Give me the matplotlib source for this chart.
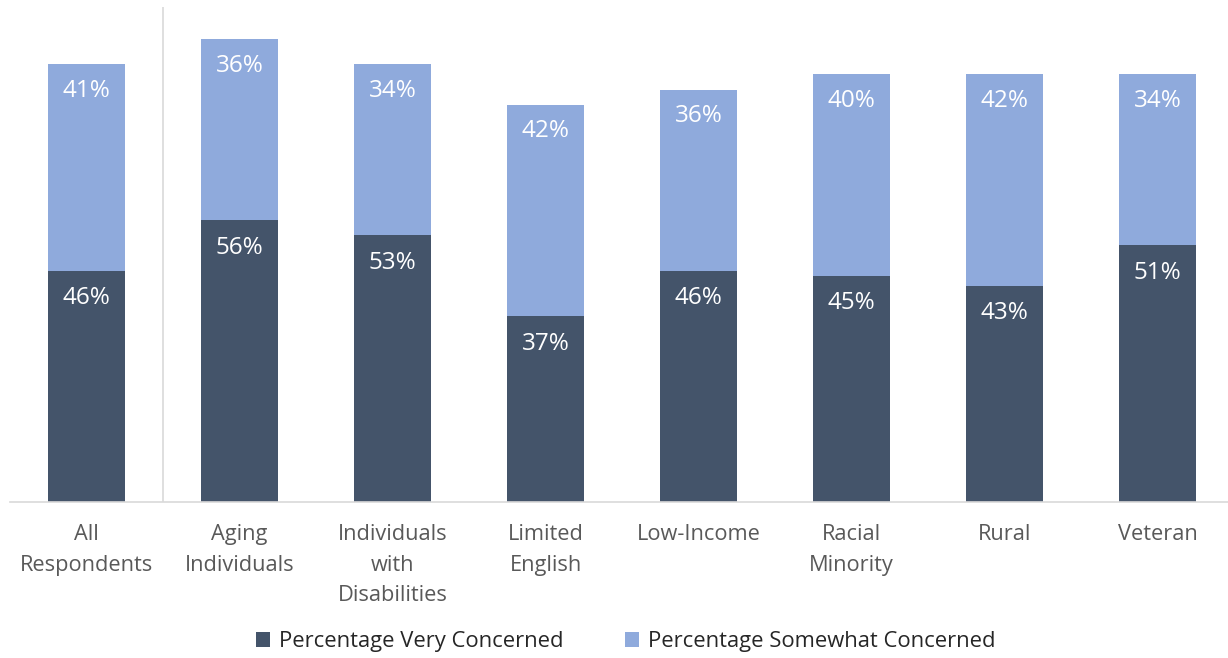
import matplotlib
matplotlib.use("Agg")
import matplotlib.pyplot as plt

categories = ["All\nRespondents", "Aging\nIndividuals", "Individuals\nwith\nDisabilities",
              "Limited\nEnglish", "Low-Income", "Racial\nMinority", "Rural", "Veteran"]
very_concerned = [46, 56, 53, 37, 46, 45, 43, 51]
somewhat_concerned = [41, 36, 34, 42, 36, 40, 42, 34]
series_names = ["Percentage Very Concerned", "Percentage Somewhat Concerned"]

dark = "#44546A"
light = "#8FAADC"

plt.rcParams['font.family'] = ['Open Sans', 'DejaVu Sans']

fig = plt.figure(figsize=(12.28, 6.58), dpi=100)
ax = fig.add_axes([10/1228, 156/658, 1 - 10/1228, (502-7)/658])

x = list(range(len(categories)))
b1 = ax.bar(x, very_concerned, width=0.5, color=dark, label=series_names[0], zorder=2)
b2 = ax.bar(x, somewhat_concerned, width=0.5, bottom=very_concerned, color=light,
            label=series_names[1], zorder=2)

for i in x:
    ax.annotate(f"{very_concerned[i]}%", (i, very_concerned[i]), xytext=(0, -20),
                textcoords="offset points", ha="center", va="center",
                color="white", fontsize=17.5)
    top = very_concerned[i] + somewhat_concerned[i]
    ax.annotate(f"{somewhat_concerned[i]}%", (i, top), xytext=(0, -19),
                textcoords="offset points", ha="center", va="center",
                color="white", fontsize=17.5)

ax.set_xlim(-0.5, 7.46)
ax.set_ylim(0, 98.4)
ax.axvline(0.5, color="#D9D9D9", lw=1.2, zorder=1)

for s in ["top", "right", "left"]:
    ax.spines[s].set_visible(False)
ax.spines["bottom"].set_color("#D9D9D9")
ax.spines["bottom"].set_linewidth(1.2)
ax.set_yticks([])
ax.set_xticks(x)
ax.set_xticklabels(categories, fontsize=15.7, color="#595959", linespacing=1.6)
ax.tick_params(axis="x", length=0, pad=16)

fig.legend(handles=[b1, b2], labels=series_names, loc="center", bbox_to_anchor=(626/1228, 1 - 642/658),
           ncol=2, frameon=False, fontsize=15.8, handlelength=0.65, handleheight=0.65,
           columnspacing=2.8, handletextpad=0.4, labelcolor="#262626")

fig.savefig("out.png", dpi=100)
